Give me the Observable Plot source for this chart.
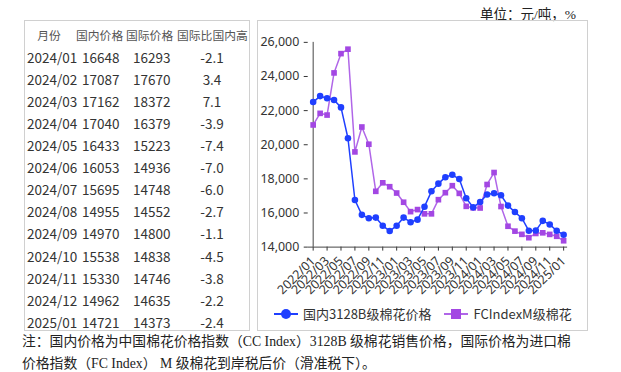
<!DOCTYPE html>
<html><head><meta charset="utf-8">
<script src="https://cdn.jsdelivr.net/npm/d3@7"></script>
<script src="https://cdn.jsdelivr.net/npm/@observablehq/plot@0.6"></script>
<style>
body{margin:0;background:#fff;width:621px;height:372px;position:relative;overflow:hidden;font-family:"Noto Sans CJK SC","Noto Sans",sans-serif;}
#unit{position:absolute;left:480px;top:3px;font-size:13.5px;font-family:"Liberation Serif","Noto Sans CJK SC",serif;color:#222;}
#tbox{position:absolute;left:24px;top:20px;width:226px;height:311px;border:1px solid #d0d0d0;box-sizing:border-box;}
.cell{position:absolute;font-size:13.5px;color:#333;line-height:20px;height:20px;white-space:nowrap;}
.hd{font-size:11.8px;color:#555;}
#cbox{position:absolute;left:257px;top:20px;width:331px;height:311px;border:1px solid #d0d0d0;box-sizing:border-box;}
#chart{position:absolute;left:0px;top:0px;}
#legend{position:absolute;left:16px;top:283px;font-size:13px;color:#333;display:flex;align-items:center;white-space:nowrap;}
.sw{display:inline-block;position:relative;width:24px;height:10px;margin-right:5px;}
.sw .ln{position:absolute;left:0;top:4px;width:24px;height:2px;}
.sw .mk{position:absolute;left:7px;top:0;width:10px;height:10px;}
#note{position:absolute;left:22px;top:331px;font-size:13.8px;line-height:22px;color:#222;font-family:"Liberation Serif","Noto Sans CJK SC",serif;white-space:nowrap;}
</style></head>
<body>
<div id="unit">单位：元/吨，%</div>
<div id="tbox"></div>
<div id="cbox"><div id="chart"></div>
<div id="legend">
<span class="sw"><span class="ln" style="background:#1f3fff"></span><span class="mk" style="background:#1f3fff;border-radius:50%"></span></span><span style="margin-right:13px">国内3128B级棉花价格</span>
<span class="sw"><span class="ln" style="background:#b066e8"></span><span class="mk" style="background:#a347e3"></span></span><span>FCIndexM级棉花</span>
</div></div>
<div id="note">注：国内价格为中国棉花价格指数（CC Index）3128B 级棉花销售价格，国际价格为进口棉<br>价格指数（FC Index） M 级棉花到岸税后价（滑准税下）。</div>
<script>
// Table data
const tableHeader = ["月份","国内价格","国际价格","国际比国内高"];
const tableMonths = ["2024/01","2024/02","2024/03","2024/04","2024/05","2024/06","2024/07","2024/08","2024/09","2024/10","2024/11","2024/12","2025/01"];
const tableDomestic = [16648,17087,17162,17040,16433,16053,15695,14955,14970,15538,15330,14962,14721];
const tableIntl = [16293,17670,18372,16379,15223,14936,14748,14552,14800,14838,14746,14635,14373];
const tableDiff = ["-2.1","3.4","7.1","-3.9","-7.4","-7.0","-6.0","-2.7","-1.1","-4.5","-3.8","-2.2","-2.4"];

// Chart data (monthly 2022/01 - 2025/01)
const months = ["2022/01","2022/02","2022/03","2022/04","2022/05","2022/06","2022/07","2022/08","2022/09","2022/10","2022/11","2022/12",
"2023/01","2023/02","2023/03","2023/04","2023/05","2023/06","2023/07","2023/08","2023/09","2023/10","2023/11","2023/12",
"2024/01","2024/02","2024/03","2024/04","2024/05","2024/06","2024/07","2024/08","2024/09","2024/10","2024/11","2024/12","2025/01"];
const domestic = [22500,22850,22720,22620,22190,20380,16760,15890,15690,15730,15250,14950,
15250,15730,15460,15610,16370,17270,17720,18100,18240,17990,16860,16330,
16648,17087,17162,17040,16433,16053,15695,14955,14970,15538,15330,14962,14721];
const intl = [21160,21840,21740,24210,25340,25600,19580,21040,20030,17270,17770,17540,
17170,16630,16080,16200,15950,15950,16780,17190,17600,17150,16390,16300,
16293,17670,18372,16379,15223,14936,14748,14552,14800,14838,14746,14635,14373];
const tickLabels = months.filter((m,i)=>i%2===0);
const yTicks = [14000,16000,18000,20000,22000,24000,26000];

// Build table (cells positioned relative to the table box)
const tbox = document.getElementById("tbox");
const rowY = i => 3.5 + i * 22.1;   // top of row i (0 = header)
const cell = (txt, x, y, cls, center) => {
  const d = document.createElement("div");
  d.className = "cell" + (cls ? " " + cls : "");
  d.textContent = txt;
  d.style.top = y + "px";
  if (center) { d.style.left = (x - 40) + "px"; d.style.width = "80px"; d.style.textAlign = "center"; }
  else d.style.left = x + "px";
  tbox.appendChild(d);
};
cell(tableHeader[0], 24, rowY(0), "hd", true);
cell(tableHeader[1], 51, rowY(0), "hd");
cell(tableHeader[2], 101, rowY(0), "hd");
cell(tableHeader[3], 152, rowY(0), "hd");
tableMonths.forEach((m,i)=>{
  const y = rowY(i+1);
  cell(m, 2, y);
  cell(String(tableDomestic[i]), 57, y);
  cell(String(tableIntl[i]), 108, y);
  cell(tableDiff[i], 187, y, "", true);
});

const data = months.flatMap((m,i)=>[{m, v:domestic[i], s:"d"},{m, v:intl[i], s:"i"}]);
const dd = data.filter(d=>d.s==="d"), di = data.filter(d=>d.s==="i");
const chart = Plot.plot({
  width: 331, height: 280,
  marginLeft: 50, marginRight: 20, marginTop: 21, marginBottom: 53,
  style: {fontSize: "12.5px", fontFamily: "'Noto Sans', 'Noto Sans CJK SC', sans-serif", color: "#333", background: "transparent"},
  x: {type: "point", domain: months, padding: 0, label: null, ticks: tickLabels, tickRotate: -45, tickSize: 4},
  y: {domain: [14000, 26000], ticks: yTicks, tickFormat: d3.format(","), label: null, tickSize: 4},
  marks: [
    Plot.ruleX([months[0]], {stroke: "#444"}),
    Plot.ruleY([14000], {stroke: "#444"}),
    Plot.line(di, {x: "m", y: "v", stroke: "#b066e8", strokeWidth: 1.5}),
    Plot.dot(di, {x: "m", y: "v", symbol: "square", fill: "#a347e3", r: 3.2}),
    Plot.line(dd, {x: "m", y: "v", stroke: "#1f3fff", strokeWidth: 1.5}),
    Plot.dot(dd, {x: "m", y: "v", symbol: "circle", fill: "#1f3fff", r: 3.3})
  ]
});
document.getElementById("chart").appendChild(chart);
</script>
</body></html>
